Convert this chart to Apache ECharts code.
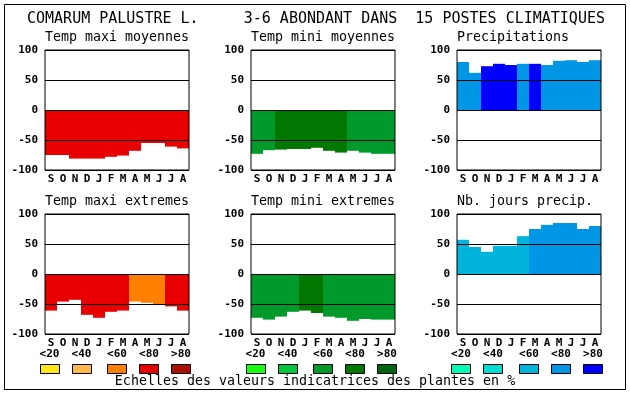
<!DOCTYPE html>
<html>
<head>
<meta charset="utf-8">
<script src="https://cdn.jsdelivr.net/npm/echarts@6/dist/echarts.min.js"></script>
<style>
html,body{margin:0;padding:0;background:#fff;}
#c{width:630px;height:394px;}
</style>
</head>
<body>
<div id="c"></div>
<script>
// ---- data ----
const months = ['S','O','N','D','J','F','M','A','M','J','J','A'];
const binLabels = ['<20','<40','<60','<80','>80'];
const yTicks = [-100,-50,0,50,100];

const headerText = 'COMARUM PALUSTRE L.     3-6 ABONDANT DANS  15 POSTES CLIMATIQUES';
const footerText = 'Echelles des valeurs indicatrices des plantes en %';

const panelTitles = ['Temp maxi moyennes','Temp mini moyennes','Precipitations',
                     'Temp maxi extremes','Temp mini extremes','Nb. jours precip.'];

const paletteMaxi = ['#ffe619','#ffb84d','#ff8000','#e80000','#aa1100'];
const paletteMini = ['#14ff14','#00c83c','#009a2a','#007800','#006414'];
const palettePrec = ['#00ffb4','#00dcd2','#00b4dc','#0096e6','#0000ff'];

const tmaxMoyValues = [-75,-75,-81,-81,-81,-78,-76,-68,-55,-55,-61,-64];
const tmaxMoyClass  = [3,3,3,3,3,3,3,3,3,3,3,3];

const tminMoyValues = [-73,-67,-66,-65,-65,-63,-68,-71,-68,-71,-73,-73];
const tminMoyClass  = [2,2,3,3,3,3,3,3,2,2,2,2];

const precValues = [80,62,73,77,75,77,77,75,82,83,80,83];
const precClass  = [3,3,4,4,4,3,4,3,3,3,3,3];

const tmaxExtValues = [-61,-46,-43,-68,-73,-63,-61,-46,-48,-50,-54,-61];
const tmaxExtClass  = [3,3,3,3,3,3,3,2,2,2,3,3];

const tminExtValues = [-73,-76,-71,-63,-61,-65,-71,-73,-78,-75,-76,-76];
const tminExtClass  = [2,2,2,2,3,3,2,2,2,2,2,2];

const nbJoursValues = [57,45,37,47,47,63,75,82,85,85,75,80];
const nbJoursClass  = [2,2,2,2,2,2,3,3,3,3,3,3];

// ---- layout ----
const panels = [
  {values: tmaxMoyValues, cls: tmaxMoyClass, pal: paletteMaxi},
  {values: tminMoyValues, cls: tminMoyClass, pal: paletteMini},
  {values: precValues,    cls: precClass,    pal: palettePrec},
  {values: tmaxExtValues, cls: tmaxExtClass, pal: paletteMaxi},
  {values: tminExtValues, cls: tminExtClass, pal: paletteMini},
  {values: nbJoursValues, cls: nbJoursClass, pal: palettePrec}
];
const colLeft = [45, 251, 457];
const rowTop = [50, 214];
const plotW = 144, plotH = 120;
const mono = '"DejaVu Sans Mono", "Liberation Mono", monospace';

const grids = [], xAxes = [], yAxes = [], series = [], graphics = [];

panels.forEach((p, i) => {
  const col = i % 3, row = Math.floor(i / 3);
  grids.push({left: colLeft[col], top: rowTop[row], width: plotW, height: plotH,
              show: true, borderColor: '#000', borderWidth: 1, backgroundColor: 'transparent', z: 5});
  xAxes.push({type: 'category', gridIndex: i, data: months,
              axisLine: {show: false}, axisTick: {show: false}, splitLine: {show: false},
              axisLabel: {interval: 0, color: '#000', fontFamily: mono, fontWeight: 'bold', fontSize: 11, margin: 4}});
  yAxes.push({type: 'value', gridIndex: i, min: -100, max: 100, interval: 50, z: 4,
              axisLine: {show: false}, axisTick: {show: false},
              splitLine: {show: true, lineStyle: {color: '#000', width: 1}},
              axisLabel: {color: '#000', fontFamily: mono, fontWeight: 'bold', fontSize: 11, margin: 7}});
  series.push({type: 'bar', xAxisIndex: i, yAxisIndex: i, barCategoryGap: 0, barGap: 0,
               silent: true, animation: false, z: 2,
               data: p.values.map((v, k) => ({value: v, itemStyle: {color: p.pal[p.cls[k]]}}))});
  graphics.push({type: 'text', x: colLeft[col], y: rowTop[row] - 12,
                 style: {text: panelTitles[i], font: '13.3px ' + mono, fill: '#000', textVerticalAlign: 'middle'}});
});

// outer frame
graphics.push({type: 'rect', shape: {x: 4.5, y: 4.5, width: 621, height: 385},
               style: {fill: 'none', stroke: '#000', lineWidth: 1}, z: 0});
// header
graphics.push({type: 'text', x: 27, y: 19,
               style: {text: headerText, font: '15px ' + mono, fill: '#000', textVerticalAlign: 'middle'}});
// footer
graphics.push({type: 'text', x: 315, y: 382,
               style: {text: footerText, font: '13.3px ' + mono, fill: '#000', textAlign: 'center', textVerticalAlign: 'middle'}});

// legends
const binCenters = [[49.5, 81.5, 117, 149, 181],[255.5, 287.5, 323, 355, 387],[461, 493, 529, 561, 593]];
const legendPals = [paletteMaxi, paletteMini, palettePrec];
binCenters.forEach((centers, c) => {
  centers.forEach((cx, k) => {
    graphics.push({type: 'text', x: cx, y: 354,
                   style: {text: binLabels[k], font: 'bold 11px ' + mono, fill: '#000', textAlign: 'center', textVerticalAlign: 'middle'}});
    graphics.push({type: 'rect', shape: {x: Math.round(cx - 10) + 0.5, y: 364.5, width: 19, height: 9},
                   style: {fill: legendPals[c][k], stroke: '#000', lineWidth: 1}});
  });
});

const chart = echarts.init(document.getElementById('c'), null, {renderer: 'canvas'});
chart.setOption({
  animation: false,
  backgroundColor: '#fff',
  grid: grids, xAxis: xAxes, yAxis: yAxes, series: series,
  graphic: graphics
});
</script>
</body>
</html>
